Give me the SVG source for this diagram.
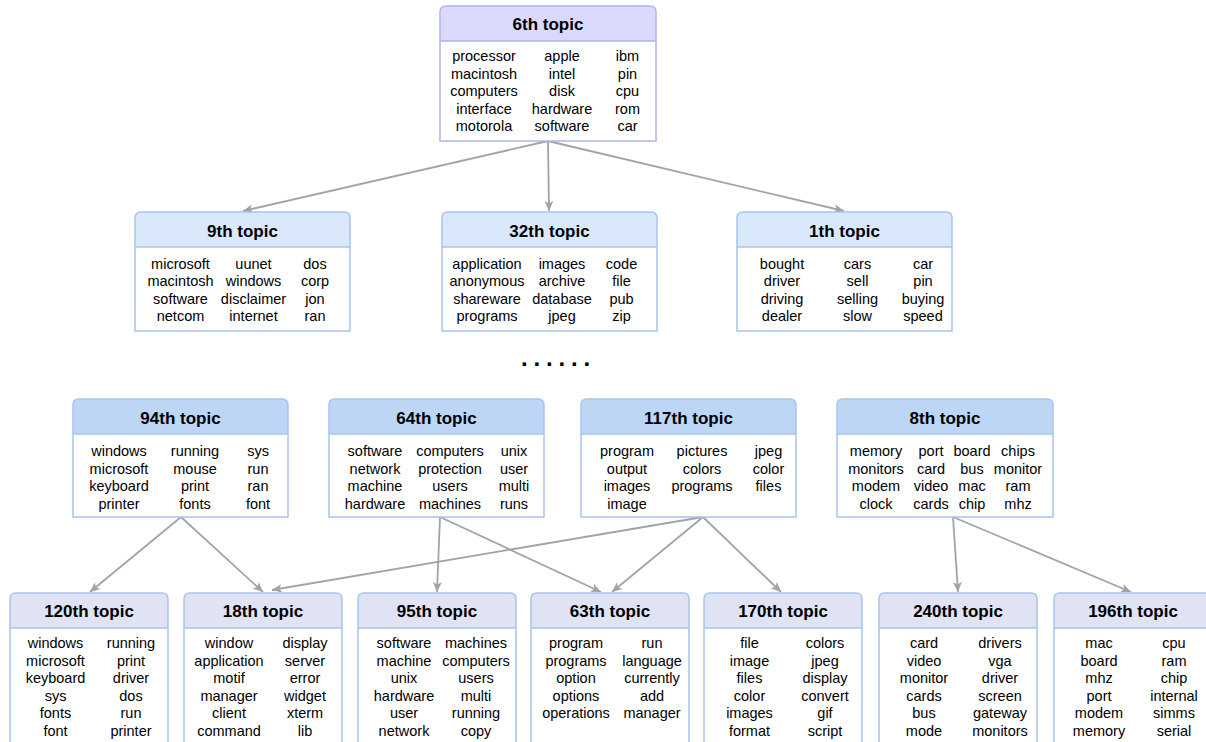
<svg xmlns="http://www.w3.org/2000/svg" width="1206" height="742" viewBox="0 0 1206 742">
<style>
text{font-family:"Liberation Sans",Arial,sans-serif;fill:#000;text-anchor:middle}
.w{font-size:14.5px}
.h{font-size:17px;font-weight:bold}
.box{fill:#fff;stroke:none}
.out{fill:none;stroke:#a9c4eb;stroke-width:1.5}
.sep{stroke:#a9c4eb;stroke-width:1.5}
.out0{fill:none;stroke:#b3b3ef;stroke-width:1.5}
.sep0{stroke:#b3b3ef;stroke-width:1.5}
.h0{fill:#dad8fb}
.h1{fill:#dae8fc}
.h2{fill:#bdd6f5}
.h3{fill:#dfe3f3}
.e{stroke:#a3a3a3;stroke-width:1.8;fill:none;marker-end:url(#arr)}
.dots{font-size:24px;font-weight:bold;text-anchor:start}
</style>
<defs>
<marker id="arr" markerUnits="userSpaceOnUse" markerWidth="12" markerHeight="10" refX="10" refY="5" orient="auto">
<path d="M0,0.5 L10,5 L0,9.5 L2.5,5 Z" fill="#a3a3a3"/>
</marker>
</defs>

<g id="connectors">
<line class="e" x1="548" y1="141" x2="243" y2="211"/>
<line class="e" x1="548" y1="141" x2="549" y2="211"/>
<line class="e" x1="548" y1="141" x2="844" y2="211"/>
<line class="e" x1="181" y1="517" x2="90" y2="592"/>
<line class="e" x1="181" y1="517" x2="263" y2="592"/>
<line class="e" x1="703" y1="517" x2="272" y2="590"/>
<line class="e" x1="440" y1="517" x2="437" y2="592"/>
<line class="e" x1="440" y1="517" x2="601" y2="592"/>
<line class="e" x1="703" y1="517" x2="612" y2="592"/>
<line class="e" x1="703" y1="517" x2="781" y2="592"/>
<line class="e" x1="953" y1="517" x2="958" y2="592"/>
<line class="e" x1="953" y1="517" x2="1131" y2="592"/>
</g>

<!-- top -->
<g id="topic6">
<path class="box" d="M440,141 V12 Q440,6 446,6 H650 Q656,6 656,12 V141 Z"/>
<path class="h0" d="M440,41 V12 Q440,6 446,6 H650 Q656,6 656,12 V41 Z"/>
<path class="out0" d="M440,141 V12 Q440,6 446,6 H650 Q656,6 656,12 V141 Z"/>
<line class="sep0" x1="440" y1="41" x2="656" y2="41"/>
<text class="h" x="548" y="30">6th topic</text>
<text class="w" x="484" y="61">processor</text><text class="w" x="562" y="61">apple</text><text class="w" x="627.5" y="61">ibm</text>
<text class="w" x="484" y="78.5">macintosh</text><text class="w" x="562" y="78.5">intel</text><text class="w" x="627.5" y="78.5">pin</text>
<text class="w" x="484" y="96">computers</text><text class="w" x="562" y="96">disk</text><text class="w" x="627.5" y="96">cpu</text>
<text class="w" x="484" y="113.5">interface</text><text class="w" x="562" y="113.5">hardware</text><text class="w" x="627.5" y="113.5">rom</text>
<text class="w" x="484" y="131">motorola</text><text class="w" x="562" y="131">software</text><text class="w" x="627.5" y="131">car</text>
</g>

<!-- row 2 -->
<g id="topic9">
<path class="box" d="M135,331 V218 Q135,212 141,212 H344 Q350,212 350,218 V331 Z"/>
<path class="h1" d="M135,247 V218 Q135,212 141,212 H344 Q350,212 350,218 V247 Z"/>
<path class="out" d="M135,331 V218 Q135,212 141,212 H344 Q350,212 350,218 V331 Z"/>
<line class="sep" x1="135" y1="247" x2="350" y2="247"/>
<text class="h" x="242.5" y="237">9th topic</text>
<text class="w" x="180.5" y="268.5">microsoft</text><text class="w" x="253.5" y="268.5">uunet</text><text class="w" x="315" y="268.5">dos</text>
<text class="w" x="180.5" y="286">macintosh</text><text class="w" x="253.5" y="286">windows</text><text class="w" x="315" y="286">corp</text>
<text class="w" x="180.5" y="303.5">software</text><text class="w" x="253.5" y="303.5">disclaimer</text><text class="w" x="315" y="303.5">jon</text>
<text class="w" x="180.5" y="321">netcom</text><text class="w" x="253.5" y="321">internet</text><text class="w" x="315" y="321">ran</text>
</g>

<g id="topic32">
<path class="box" d="M442,331 V218 Q442,212 448,212 H651 Q657,212 657,218 V331 Z"/>
<path class="h1" d="M442,247 V218 Q442,212 448,212 H651 Q657,212 657,218 V247 Z"/>
<path class="out" d="M442,331 V218 Q442,212 448,212 H651 Q657,212 657,218 V331 Z"/>
<line class="sep" x1="442" y1="247" x2="657" y2="247"/>
<text class="h" x="549.5" y="237">32th topic</text>
<text class="w" x="487" y="268.5">application</text><text class="w" x="562" y="268.5">images</text><text class="w" x="621.5" y="268.5">code</text>
<text class="w" x="487" y="286">anonymous</text><text class="w" x="562" y="286">archive</text><text class="w" x="621.5" y="286">file</text>
<text class="w" x="487" y="303.5">shareware</text><text class="w" x="562" y="303.5">database</text><text class="w" x="621.5" y="303.5">pub</text>
<text class="w" x="487" y="321">programs</text><text class="w" x="562" y="321">jpeg</text><text class="w" x="621.5" y="321">zip</text>
</g>

<g id="topic1">
<path class="box" d="M737,331 V218 Q737,212 743,212 H946 Q952,212 952,218 V331 Z"/>
<path class="h1" d="M737,247 V218 Q737,212 743,212 H946 Q952,212 952,218 V247 Z"/>
<path class="out" d="M737,331 V218 Q737,212 743,212 H946 Q952,212 952,218 V331 Z"/>
<line class="sep" x1="737" y1="247" x2="952" y2="247"/>
<text class="h" x="844.5" y="237">1th topic</text>
<text class="w" x="782" y="268.5">bought</text><text class="w" x="857.5" y="268.5">cars</text><text class="w" x="923" y="268.5">car</text>
<text class="w" x="782" y="286">driver</text><text class="w" x="857.5" y="286">sell</text><text class="w" x="923" y="286">pin</text>
<text class="w" x="782" y="303.5">driving</text><text class="w" x="857.5" y="303.5">selling</text><text class="w" x="923" y="303.5">buying</text>
<text class="w" x="782" y="321">dealer</text><text class="w" x="857.5" y="321">slow</text><text class="w" x="923" y="321">speed</text>
</g>

<text class="dots" x="521 533.5 546 558.5 571 583.5" y="366">......</text>

<!-- row 3 -->
<g id="topic94">
<path class="box" d="M73,517 V405 Q73,399 79,399 H282 Q288,399 288,405 V517 Z"/>
<path class="h2" d="M73,434 V405 Q73,399 79,399 H282 Q288,399 288,405 V434 Z"/>
<path class="out" d="M73,517 V405 Q73,399 79,399 H282 Q288,399 288,405 V517 Z"/>
<line class="sep" x1="73" y1="434" x2="288" y2="434"/>
<text class="h" x="180.5" y="424">94th topic</text>
<text class="w" x="119" y="456">windows</text><text class="w" x="195" y="456">running</text><text class="w" x="258" y="456">sys</text>
<text class="w" x="119" y="473.5">microsoft</text><text class="w" x="195" y="473.5">mouse</text><text class="w" x="258" y="473.5">run</text>
<text class="w" x="119" y="491">keyboard</text><text class="w" x="195" y="491">print</text><text class="w" x="258" y="491">ran</text>
<text class="w" x="119" y="508.5">printer</text><text class="w" x="195" y="508.5">fonts</text><text class="w" x="258" y="508.5">font</text>
</g>

<g id="topic64">
<path class="box" d="M329,517 V405 Q329,399 335,399 H538 Q544,399 544,405 V517 Z"/>
<path class="h2" d="M329,434 V405 Q329,399 335,399 H538 Q544,399 544,405 V434 Z"/>
<path class="out" d="M329,517 V405 Q329,399 335,399 H538 Q544,399 544,405 V517 Z"/>
<line class="sep" x1="329" y1="434" x2="544" y2="434"/>
<text class="h" x="436.5" y="424">64th topic</text>
<text class="w" x="375" y="456">software</text><text class="w" x="450" y="456">computers</text><text class="w" x="514" y="456">unix</text>
<text class="w" x="375" y="473.5">network</text><text class="w" x="450" y="473.5">protection</text><text class="w" x="514" y="473.5">user</text>
<text class="w" x="375" y="491">machine</text><text class="w" x="450" y="491">users</text><text class="w" x="514" y="491">multi</text>
<text class="w" x="375" y="508.5">hardware</text><text class="w" x="450" y="508.5">machines</text><text class="w" x="514" y="508.5">runs</text>
</g>

<g id="topic117">
<path class="box" d="M581,517 V405 Q581,399 587,399 H790 Q796,399 796,405 V517 Z"/>
<path class="h2" d="M581,434 V405 Q581,399 587,399 H790 Q796,399 796,405 V434 Z"/>
<path class="out" d="M581,517 V405 Q581,399 587,399 H790 Q796,399 796,405 V517 Z"/>
<line class="sep" x1="581" y1="434" x2="796" y2="434"/>
<text class="h" x="688.5" y="424">117th topic</text>
<text class="w" x="627" y="456">program</text><text class="w" x="702" y="456">pictures</text><text class="w" x="768.5" y="456">jpeg</text>
<text class="w" x="627" y="473.5">output</text><text class="w" x="702" y="473.5">colors</text><text class="w" x="768.5" y="473.5">color</text>
<text class="w" x="627" y="491">images</text><text class="w" x="702" y="491">programs</text><text class="w" x="768.5" y="491">files</text>
<text class="w" x="627" y="508.5">image</text>
</g>

<g id="topic8">
<path class="box" d="M837,517 V405 Q837,399 843,399 H1047 Q1053,399 1053,405 V517 Z"/>
<path class="h2" d="M837,434 V405 Q837,399 843,399 H1047 Q1053,399 1053,405 V434 Z"/>
<path class="out" d="M837,517 V405 Q837,399 843,399 H1047 Q1053,399 1053,405 V517 Z"/>
<line class="sep" x1="837" y1="434" x2="1053" y2="434"/>
<text class="h" x="945" y="424">8th topic</text>
<text class="w" x="876" y="456">memory</text><text class="w" x="931" y="456">port</text><text class="w" x="972" y="456">board</text><text class="w" x="1018" y="456">chips</text>
<text class="w" x="876" y="473.5">monitors</text><text class="w" x="931" y="473.5">card</text><text class="w" x="972" y="473.5">bus</text><text class="w" x="1018" y="473.5">monitor</text>
<text class="w" x="876" y="491">modem</text><text class="w" x="931" y="491">video</text><text class="w" x="972" y="491">mac</text><text class="w" x="1018" y="491">ram</text>
<text class="w" x="876" y="508.5">clock</text><text class="w" x="931" y="508.5">cards</text><text class="w" x="972" y="508.5">chip</text><text class="w" x="1018" y="508.5">mhz</text>
</g>

<!-- row 4 -->
<g id="topic120">
<path class="box" d="M10,760 V599 Q10,593 16,593 H162 Q168,593 168,599 V760 Z"/>
<path class="h3" d="M10,628 V599 Q10,593 16,593 H162 Q168,593 168,599 V628 Z"/>
<path class="out" d="M10,760 V599 Q10,593 16,593 H162 Q168,593 168,599 V760 Z"/>
<line class="sep" x1="10" y1="628" x2="168" y2="628"/>
<text class="h" x="89" y="617">120th topic</text>
<text class="w" x="55.5" y="648">windows</text><text class="w" x="131" y="648">running</text>
<text class="w" x="55.5" y="665.5">microsoft</text><text class="w" x="131" y="665.5">print</text>
<text class="w" x="55.5" y="683">keyboard</text><text class="w" x="131" y="683">driver</text>
<text class="w" x="55.5" y="700.5">sys</text><text class="w" x="131" y="700.5">dos</text>
<text class="w" x="55.5" y="718">fonts</text><text class="w" x="131" y="718">run</text>
<text class="w" x="55.5" y="735.5">font</text><text class="w" x="131" y="735.5">printer</text>
</g>

<g id="topic18">
<path class="box" d="M184,760 V599 Q184,593 190,593 H336 Q342,593 342,599 V760 Z"/>
<path class="h3" d="M184,628 V599 Q184,593 190,593 H336 Q342,593 342,599 V628 Z"/>
<path class="out" d="M184,760 V599 Q184,593 190,593 H336 Q342,593 342,599 V760 Z"/>
<line class="sep" x1="184" y1="628" x2="342" y2="628"/>
<text class="h" x="263" y="617">18th topic</text>
<text class="w" x="229" y="648">window</text><text class="w" x="305" y="648">display</text>
<text class="w" x="229" y="665.5">application</text><text class="w" x="305" y="665.5">server</text>
<text class="w" x="229" y="683">motif</text><text class="w" x="305" y="683">error</text>
<text class="w" x="229" y="700.5">manager</text><text class="w" x="305" y="700.5">widget</text>
<text class="w" x="229" y="718">client</text><text class="w" x="305" y="718">xterm</text>
<text class="w" x="229" y="735.5">command</text><text class="w" x="305" y="735.5">lib</text>
</g>

<g id="topic95">
<path class="box" d="M358,760 V599 Q358,593 364,593 H510 Q516,593 516,599 V760 Z"/>
<path class="h3" d="M358,628 V599 Q358,593 364,593 H510 Q516,593 516,599 V628 Z"/>
<path class="out" d="M358,760 V599 Q358,593 364,593 H510 Q516,593 516,599 V760 Z"/>
<line class="sep" x1="358" y1="628" x2="516" y2="628"/>
<text class="h" x="437" y="617">95th topic</text>
<text class="w" x="404" y="648">software</text><text class="w" x="476" y="648">machines</text>
<text class="w" x="404" y="665.5">machine</text><text class="w" x="476" y="665.5">computers</text>
<text class="w" x="404" y="683">unix</text><text class="w" x="476" y="683">users</text>
<text class="w" x="404" y="700.5">hardware</text><text class="w" x="476" y="700.5">multi</text>
<text class="w" x="404" y="718">user</text><text class="w" x="476" y="718">running</text>
<text class="w" x="404" y="735.5">network</text><text class="w" x="476" y="735.5">copy</text>
</g>

<g id="topic63">
<path class="box" d="M531,760 V599 Q531,593 537,593 H683 Q689,593 689,599 V760 Z"/>
<path class="h3" d="M531,628 V599 Q531,593 537,593 H683 Q689,593 689,599 V628 Z"/>
<path class="out" d="M531,760 V599 Q531,593 537,593 H683 Q689,593 689,599 V760 Z"/>
<line class="sep" x1="531" y1="628" x2="689" y2="628"/>
<text class="h" x="610" y="617">63th topic</text>
<text class="w" x="576" y="648">program</text><text class="w" x="652" y="648">run</text>
<text class="w" x="576" y="665.5">programs</text><text class="w" x="652" y="665.5">language</text>
<text class="w" x="576" y="683">option</text><text class="w" x="652" y="683">currently</text>
<text class="w" x="576" y="700.5">options</text><text class="w" x="652" y="700.5">add</text>
<text class="w" x="576" y="718">operations</text><text class="w" x="652" y="718">manager</text>
</g>

<g id="topic170">
<path class="box" d="M704,760 V599 Q704,593 710,593 H856 Q862,593 862,599 V760 Z"/>
<path class="h3" d="M704,628 V599 Q704,593 710,593 H856 Q862,593 862,599 V628 Z"/>
<path class="out" d="M704,760 V599 Q704,593 710,593 H856 Q862,593 862,599 V760 Z"/>
<line class="sep" x1="704" y1="628" x2="862" y2="628"/>
<text class="h" x="783" y="617">170th topic</text>
<text class="w" x="749.5" y="648">file</text><text class="w" x="825" y="648">colors</text>
<text class="w" x="749.5" y="665.5">image</text><text class="w" x="825" y="665.5">jpeg</text>
<text class="w" x="749.5" y="683">files</text><text class="w" x="825" y="683">display</text>
<text class="w" x="749.5" y="700.5">color</text><text class="w" x="825" y="700.5">convert</text>
<text class="w" x="749.5" y="718">images</text><text class="w" x="825" y="718">gif</text>
<text class="w" x="749.5" y="735.5">format</text><text class="w" x="825" y="735.5">script</text>
</g>

<g id="topic240">
<path class="box" d="M879,760 V599 Q879,593 885,593 H1031 Q1037,593 1037,599 V760 Z"/>
<path class="h3" d="M879,628 V599 Q879,593 885,593 H1031 Q1037,593 1037,599 V628 Z"/>
<path class="out" d="M879,760 V599 Q879,593 885,593 H1031 Q1037,593 1037,599 V760 Z"/>
<line class="sep" x1="879" y1="628" x2="1037" y2="628"/>
<text class="h" x="958" y="617">240th topic</text>
<text class="w" x="924" y="648">card</text><text class="w" x="1000" y="648">drivers</text>
<text class="w" x="924" y="665.5">video</text><text class="w" x="1000" y="665.5">vga</text>
<text class="w" x="924" y="683">monitor</text><text class="w" x="1000" y="683">driver</text>
<text class="w" x="924" y="700.5">cards</text><text class="w" x="1000" y="700.5">screen</text>
<text class="w" x="924" y="718">bus</text><text class="w" x="1000" y="718">gateway</text>
<text class="w" x="924" y="735.5">mode</text><text class="w" x="1000" y="735.5">monitors</text>
</g>

<g id="topic196">
<path class="box" d="M1054,760 V599 Q1054,593 1060,593 H1206 Q1212,593 1212,599 V760 Z"/>
<path class="h3" d="M1054,628 V599 Q1054,593 1060,593 H1206 Q1212,593 1212,599 V628 Z"/>
<path class="out" d="M1054,760 V599 Q1054,593 1060,593 H1206 Q1212,593 1212,599 V760 Z"/>
<line class="sep" x1="1054" y1="628" x2="1212" y2="628"/>
<text class="h" x="1133" y="617">196th topic</text>
<text class="w" x="1099" y="648">mac</text><text class="w" x="1174" y="648">cpu</text>
<text class="w" x="1099" y="665.5">board</text><text class="w" x="1174" y="665.5">ram</text>
<text class="w" x="1099" y="683">mhz</text><text class="w" x="1174" y="683">chip</text>
<text class="w" x="1099" y="700.5">port</text><text class="w" x="1174" y="700.5">internal</text>
<text class="w" x="1099" y="718">modem</text><text class="w" x="1174" y="718">simms</text>
<text class="w" x="1099" y="735.5">memory</text><text class="w" x="1174" y="735.5">serial</text>
</g>
</svg>
